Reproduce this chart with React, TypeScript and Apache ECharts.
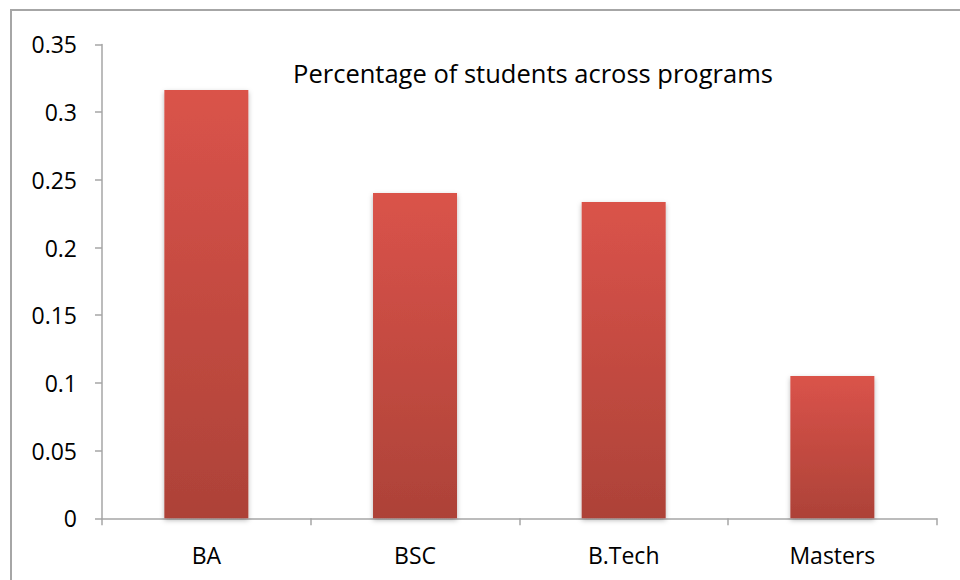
import React, { useEffect, useRef } from "react";
import * as echarts from "echarts";

const categories = ["BA", "BSC", "B.Tech", "Masters"];
const values = [0.3163, 0.2403, 0.2336, 0.1051];
const yTicks = { min: 0, max: 0.35, interval: 0.05 };
const titleText = "Percentage of students across programs";

export default function App() {
  const ref = useRef<HTMLDivElement>(null);
  useEffect(() => {
    const chart = echarts.init(ref.current!, null, { renderer: "svg" });
    const font = "'Open Sans', 'Liberation Sans', sans-serif";
    chart.setOption({
      animation: false,
      backgroundColor: "#ffffff",
      grid: { left: 102, top: 44.4, right: 23.3, bottom: 61.7, containLabel: false },
      xAxis: {
        type: "category",
        data: categories,
        boundaryGap: true,
        axisLine: { show: true, lineStyle: { color: "#a6a6a6", width: 1.5 } },
        axisTick: { show: true, alignWithLabel: false, length: 7, lineStyle: { color: "#a6a6a6", width: 1.5 } },
        axisLabel: { color: "#000", fontSize: 23, fontFamily: font, margin: 25 },
        splitLine: { show: false },
      },
      yAxis: {
        type: "value",
        min: yTicks.min,
        max: yTicks.max,
        interval: yTicks.interval,
        axisLine: { show: true, lineStyle: { color: "#a6a6a6", width: 1.5 } },
        axisTick: { show: true, length: 7, lineStyle: { color: "#a6a6a6", width: 1.5 } },
        axisLabel: {
          color: "#000",
          fontSize: 23,
          fontFamily: font,
          margin: 25,
          formatter: (v: number) => String(parseFloat(v.toFixed(2))),
        },
        splitLine: { show: false },
      },
      series: [
        {
          type: "bar",
          data: values,
          barWidth: 84,
          itemStyle: {
            color: new echarts.graphic.LinearGradient(0, 0, 0, 1, [
              { offset: 0, color: "#da534a" },
              { offset: 1, color: "#ad4238" },
            ]),
            shadowColor: "rgba(0,0,0,0.28)",
            shadowBlur: 5,
            shadowOffsetY: 2,
          },
        },
      ],
      graphic: [
        {
          type: "rect",
          shape: { x: 11, y: 10, width: 1200, height: 1200 },
          style: { fill: "none", stroke: "#a6a6a6", lineWidth: 2 },
          silent: true,
        },
        {
          type: "text",
          x: 533,
          y: 73,
          style: {
            text: titleText,
            fill: "#000",
            fontSize: 25.5,
            fontFamily: font,
            textAlign: "center",
            textVerticalAlign: "middle",
          },
        },
      ],
    });
    return () => chart.dispose();
  }, []);
  return (
    <div
      ref={ref}
      style={{ position: "absolute", left: 0, top: 0, width: 960, height: 580 }}
    />
  );
}
